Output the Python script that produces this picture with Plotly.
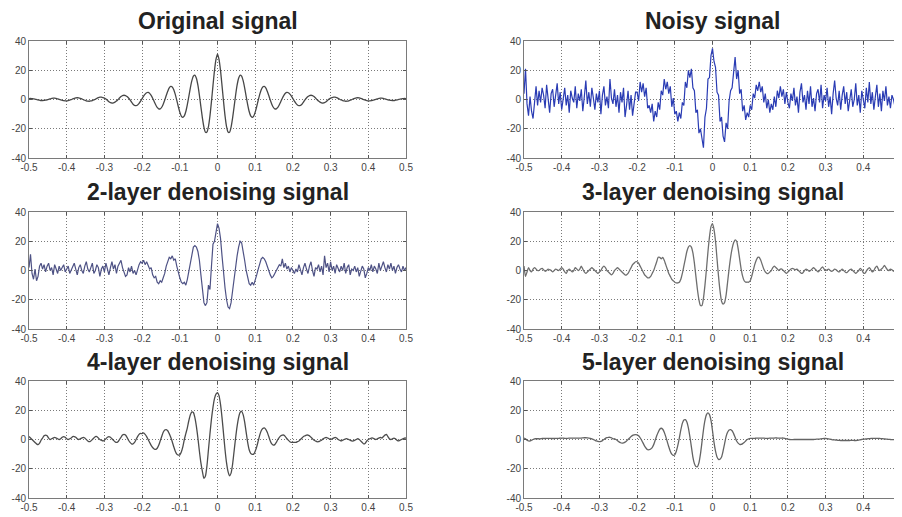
import plotly.graph_objects as go

# sampling: x starts at -0.5, step 0.004 -> 251 samples up to 0.5
x_start = -0.5
x_step = 0.004

original = [
 0.6, 0.7, 0.6, 0.5, 0.3, 0.0, -0.3, -0.5, -0.7, -0.7,
 -0.6, -0.4, -0.2, 0.1, 0.5, 0.7, 0.9, 0.9, 0.7, 0.5,
 0.1, -0.2, -0.5, -0.8, -0.9, -0.9, -0.7, -0.4, -0.1, 0.4,
 0.8, 1.1, 1.2, 1.1, 0.8, 0.4, -0.1, -0.5, -0.9, -1.1,
 -1.2, -1.0, -0.7, -0.3, 0.2, 0.8, 1.3, 1.6, 1.6, 1.3,
 0.9, 0.3, -0.6, -1.5, -2.1, -2.4, -2.3, -1.8, -1.1, -0.1,
 1.0, 2.0, 2.7, 2.9, 2.7, 2.0, 1.0, -0.2, -1.8, -3.2,
 -4.0, -4.2, -3.7, -2.6, -1.1,
 0.6, 2.3, 3.7, 4.6, 4.8, 4.2, 2.8, 0.9, -1.4, -3.6,
 -5.4, -6.4, -6.4, -5.3, -3.2, -0.4, 2.7, 5.6, 7.9, 8.9,
 8.6, 6.7, 3.5, -0.5, -4.8, -8.6, -11.3, -12.2, -11.2, -8.2,
 -3.5, 2.2, 8.0, 12.9, 16.0, 16.7, 14.5, 9.8, 2.9, -5.0,
 -12.7, -18.9, -22.4, -22.3, -18.5, -11.2, -1.3, 9.5, 19.7, 27.4,
 31.0,
 27.4, 19.7, 9.5, -1.3, -11.2, -18.5, -22.3, -22.4, -18.9, -12.7,
 -5.0, 2.9, 9.8, 14.5, 16.7, 16.0, 12.9, 8.0, 2.2, -3.5,
 -8.2, -11.2, -12.2, -11.3, -8.6, -4.8, -0.5, 3.5, 6.7, 8.6,
 8.9, 7.9, 5.6, 2.7, -0.4, -3.2, -5.3, -6.4, -6.4, -5.4,
 -3.6, -1.4, 0.9, 2.8, 4.2, 4.8, 4.6, 3.7, 2.3, 0.6,
 -1.1, -2.6, -3.7, -4.2, -4.0, -3.2, -1.8, -0.2, 1.0, 2.0,
 2.7, 2.9, 2.7, 2.0, 1.0, -0.1, -1.1, -1.8, -2.3, -2.4,
 -2.1, -1.5, -0.6, 0.3, 0.9, 1.3, 1.6, 1.6, 1.3, 0.8,
 0.2, -0.3, -0.7, -1.0, -1.2, -1.1, -0.9, -0.5, -0.1, 0.4,
 0.8, 1.1, 1.2, 1.1, 0.8, 0.4, -0.1, -0.4, -0.7, -0.9,
 -0.9, -0.8, -0.5, -0.2, 0.1, 0.5, 0.7, 0.9, 0.9, 0.7,
 0.5, 0.1, -0.2, -0.4, -0.6, -0.7, -0.7, -0.5, -0.3, 0.0,
 0.3, 0.5, 0.6, 0.7, 0.6,
]

noisy = [
 4, 21, -3, -11, 2, -8, -13, 1, 9, -4,
 6, -2, 8, 3, -6, 10, -1, -9, 4, 7,
 -5, 2, 11, -3, 5, -7, 0, 8, -4, 3,
 -9, 6, 1, -2, 9, -6, 4, -1, 7, -8,
 2, 13, -3, 5, -5, 8, 1, -7, 4, -2,
 6, -10, 3, 9, -4, 2, -6, 14, 1, -3,
 7, -5, 3, -9, 5, -2, 8, -12, -4, 6,
 -7, 3, -11, -2, 5,
 5, -1, 12, 5, 11, 2, 8, -6, -4, -9,
 -3, -15, -8, -12, -2, -7, 6, 3, 14, 7,
 12, 4, 9, -5, 1, -10, -8, -15, -9, -13,
 -2, -4, 12, 8, 20, 15, 21, 8, 6, -9,
 -7, -23, -20, -27, -33, -12, -6, 14, 15, 30,
 35,
 26, 22, 5, 3, -15, -12, -25, -29, -16, -20,
 -1, 6, 8, 18, 29, 14, 20, 4, 7, -8,
 -4, -14, -9, -12, -4, -7, 4, 1, 10, 6,
 12, 5, 9, -2, 4, -6, 0, -9, -3, -7,
 2, -5, 6, 1, 9, 2, 7, -3, 5, -2,
 -6, 4, -1, 8, -4, 2, -9, 5, 11, -2,
 3, -7, 6, -3, 9, -5, 1, -8, 4, 7,
 -2, 10, -6, 3, -1, 8, -5, 2, -10, 4,
 13, 1, -4, 6, -7, 3, 9, -3, 5, -8,
 2, 7, -5, 0, 11, -4, 3, -9, 6, 1,
 -6, 8, -2, 12, -3, 5, -7, 2, 10, -5,
 4, -8, 6, -1, 9, -4, 2, -6, 3, 0,
 -5, 7, -3, 4, -2,
]

layer2 = [
 2, 11, -2, -6, 1, -7, -4, 3, 5, 1,
 4, -1, 3, 5, 0, 2, -3, 4, 1, -2,
 3, 0, 2, 4, -1, 1, 3, -2, 0, 2,
 5, 1, -3, 2, 4, 0, -2, 3, 6, 1,
 -1, 2, 5, -2, 0, 4, 2, -4, 1, 3,
 -1, 5, 0, -3, 2, 6, 1, 4, -2, 3,
 5, 7, 2, -1, -4, -3, 2, -1, 3, -2,
 0, -3, 1, 4, 6,
 5, 7, 4, 6, 3, 1, 2, -3, -5, -4,
 -8, -9, -7, -8, -5, -2, 3, 6, 9, 8,
 10, 7, 8, 3, -2, -5, -8, -9, -8, -10,
 -6, 0, 6, 12, 16, 17, 16, 13, 7, -3,
 -14, -22, -24, -22, -10, -13, 3, 18, 20, 27,
 32,
 29, 22, 10, -2, -12, -20, -25, -26, -22, -14,
 -5, 3, 10, 16, 20, 19, 14, 7, 0, -5,
 -9, -10, -8, -10, -7, -3, 1, 5, 8, 9,
 8, 6, 3, -1, -3, -5, -4, -2, 0, 2,
 4, 3, 8, 2, 5, 1, 3, -1, 2, 0,
 -2, 1, -1, 4, 0, -3, 2, 5, 1, -2,
 3, 6, 0, -4, 2, 1, 4, -1, 3, -3,
 10, 2, 5, -1, 6, 0, 3, -2, 4, 1,
 -1, 3, 0, 5, -2, 2, 4, -3, 1, 0,
 3, -1, 2, -4, 0, 3, 1, -5, -2, 2,
 0, 4, -1, 3, 1, -2, 5, 0, 3, 6,
 2, -1, 4, 1, 5, 0, 3, -2, 2, 4,
 1, -1, 3, 0, 2,
]

layer3 = [
 3, -4, -1, 2, 0, -1, 1, 2, 1, 0,
 0, 1, 1.5, 0.5, -0.5, 0, 1, 0.5, 0, -1,
 0, 1, 0.5, 0, 1, 2, 1, -1, -2, 0,
 1, 0, -1, 0, 2, 1, 0, 1, 3, 1,
 -1, -2, -1, 0, 1, 2, 1, 0, -1, -2,
 -1, 0, 2, 3, 2, 0, -1, -2, -3, -2,
 0, 1, 2, 1, 0, -1, -2, -3, -3, -2,
 0, 2, 4, 5, 6,
 6, 5, 3, 1, -1, -3, -4, -5, -5, -4,
 -2, 0, 3, 6, 9, 9, 8, 9, 7, 4,
 1, -2, -4, -6, -7, -8, -8.5, -8.5, -8, -6,
 -2, 3, 8, 13, 16, 17, 16, 12, 5, -4,
 -13, -20, -24, -24, -19, -10, 1, 13, 23, 30,
 32,
 28, 20, 8, -4, -14, -21, -23, -22, -17, -8,
 1, 9, 15, 19, 21, 20, 15, 8, 1, -4,
 -7, -8, -8, -8, -7, -4, 0, 4, 7, 9,
 9, 7, 4, 1, -1, -2, -2, -1, 0, 2,
 3, 2, 1, 0, 1, 1, 0, -1, -2, -1,
 0, 1, 1.5, 1, 0.5, 1, 0, -1, -2, -1.5,
 0, 1, 0.5, -0.5, 0, 1, 2, 1, 0, -1,
 0, 1.5, 2.5, 1, 0, 0.5, 1, 0, -0.5, 0,
 1, 0.5, -0.5, -1, 0, 1, 0, -1, -1.5, -0.5,
 0.5, 1, 0, -1, -2, -1, 0, 1.5, 0.5, -1.5,
 -2, -0.5, 1, 2, 0.5, -1, 0, 2, 3, 1,
 0, 1, 2, 3.5, 2, 0.5, 0, 1, 0.5, -0.5,
 0, 0.5, 1, 0.5, 0,
]

layer4 = [
 2, 1, 0, -1, -2, -3, -3.5, -2.5, -0.5, 1,
 2.5, 3, 2.5, 1, 0, 0.5, 1, 1.5, 1, 0.5,
 0, 0.5, 1.5, 2, 1.5, 0.5, 0, 0.5, 1, 2,
 2, 1.5, 0.5, 0, 0.5, 1, 1.5, 1, 0, -1,
 -1.5, -1, 0, 1, 2, 2, 1, 0, -0.5, -1,
 -0.5, 0.5, 1.5, 2, 1.5, 0.5, -0.5, -1.5, -2, -1.5,
 0, 1.5, 3, 3.5, 3, 1.5, -0.5, -2, -3, -3,
 -2, 0, 2, 3.5, 4.2,
 4, 4.5, 3.5, 2, 0, -2, -4, -5.5, -6.5, -6.8,
 -6, -4, -1, 2, 5, 6.5, 6.8, 6, 4, 1.5,
 -1.5, -5, -8, -10, -10.7, -10.5, -8.5, -5, 0, 4,
 8, 13, 17, 18.9, 18.5, 15, 9, 1, -8, -16,
 -22, -26.6, -25, -18, -7, 4, 14, 22, 28, 31,
 32,
 30, 24, 15, 4, -7, -16, -22, -24.8, -23, -17,
 -8, 1, 9, 15, 18.5, 19.3, 17, 12, 5, -2,
 -7, -9.5, -10.2, -10, -8, -5, -1, 3, 6, 7.5,
 8, 7, 5, 2, -1, -3, -3.9, -3.5, -2, 0,
 1.5, 2.5, 3, 3, 2, 0.5, -0.5, -1.5, -2, -2,
 -2, -2, -1.5, -1, 0, 1, 2, 2.5, 3, 3,
 2.5, 1.5, 0.5, -0.5, -1, -1.5, -1.5, -1, -0.5, 0.5,
 1, 1.5, 1, 0.5, 0, 0.5, 1, 1.5, 1, 0,
 -0.5, -1, -0.5, 0, 0.5, 0.5, 0, -0.5, -1, -1,
 -0.5, 0, 0.5, 0, -1, -2, -3, -2.5, -1, 0,
 0.5, 1, 1, 0.5, 0, 0.5, 1, 1.5, 1, 2,
 3, 3.5, 2, 0.5, 0, 0.5, 1, 0.5, -0.5, -1,
 -0.5, 0, 0.5, 1, 1,
]

layer5 = [
 1, 0.5, -0.5, -1, -1, -0.5, 0, 0.5, 0.5, 0.5,
 0.5, 0.5, 0.7, 0.7, 0.7, 0.8, 0.8, 0.8, 0.7, 0.7,
 0.7, 0.8, 0.8, 0.8, 0.9, 0.9, 0.9, 0.8, 0.8, 0.8,
 0.9, 1, 1, 1, 1, 1, 0.9, 0.9, 1, 1.1,
 1.2, 1.2, 1.1, 1, 0.8, 0.5, 0, -0.5, -1, -1.3,
 -1.5, -1.3, -0.8, 0, 0.8, 1.3, 1.5, 1.5, 1.2, 0.5,
 0.5, 0, -0.8, -1.6, -2.2, -2.5, -2.3, -1.8, -1, 0,
 1, 2, 2.8, 3.2, 3.4,
 3.2, 2.5, 1.2, -0.5, -2.5, -4.5, -6, -7, -7, -6.5,
 -5.5, -3.5, -0.5, 2.5, 5, 7, 7.7, 7, 5, 2,
 -1.5, -5, -8, -10, -10.9, -10.5, -8, -4, 1, 6.5,
 11, 13.3, 13.6, 12, 8, 2, -5, -12, -16.5, -18.5,
 -18.6, -16, -10, -2, 6.5, 13, 17, 18.2, 17, 13,
 6,
 -2, -8, -12, -13.6, -13.5, -12, -8, -3, 2, 5,
 6.5, 6.8, 6, 4, 1.5, -1, -2.5, -3.3, -3.4, -2.8,
 -2, -1, 0, 0.5, 0.8, 0.8, 0.8, 0.8, 0.9, 0.9,
 0.9, 1, 1, 0.9, 0.8, 0.8, 0.8, 0.9, 1, 1,
 1, 1.1, 1, 0.9, 0.9, 1, 1, 0.8, 0.5, 0.2,
 0, -0.1, -0.1, 0, 0, 0, 0, 0, 0, 0,
 0, 0, 0, 0, 0, 0, 0, 0.1, 0.2, 0.2,
 0.3, 0.5, 0.6, 0.7, 0.7, 0.6, 0.4, 0.2, 0, -0.2,
 -0.3, -0.4, -0.5, -0.6, -0.7, -0.7, -0.7, -0.7, -0.7, -0.7,
 -0.7, -0.6, -0.6, -0.7, -0.7, -0.6, -0.4, -0.2, 0, 0.2,
 0.3, 0.4, 0.5, 0.6, 0.7, 0.8, 0.8, 0.8, 0.8, 0.8,
 0.7, 0.6, 0.5, 0.4, 0.3, 0.2, 0.1, 0, -0.1, -0.1,
 -0.1, 0, 0, 0, 0,
]

titles = ["Original signal", "Noisy signal",
          "2-layer denoising signal", "3-layer denoising signal",
          "4-layer denoising signal", "5-layer denoising signal"]
x_tick_vals = [-0.5, -0.4, -0.3, -0.2, -0.1, 0, 0.1, 0.2, 0.3, 0.4, 0.5]
x_tick_text = ["-0.5", "-0.4", "-0.3", "-0.2", "-0.1", "0", "0.1", "0.2", "0.3", "0.4", "0.5"]
y_tick_vals = [-40, -20, 0, 20, 40]
y_tick_text = ["-40", "-20", "0", "20", "40"]

series = [original, noisy, layer2, layer3, layer4, layer5]
for name, s in zip(titles, series):
    if len(s) != 251:
        raise ValueError(f"{name}: {len(s)}")

colors = ["#474747", "#2a3cb4", "#4e5285", "#6e6e6e", "#4c4c4c", "#646464"]
widths = [1.3, 1.2, 1.2, 1.3, 1.3, 1.3]
shapes = ["spline", "linear", "linear", "spline", "spline", "spline"]

# the page body has an 8px margin, so the figure is placed at (8, 8) in the window
OFF = 8
W, H = 902 - OFF, 517 - OFF
xdom = [(29 - OFF, 406 - OFF), (524 - OFF, 901 - OFF)]
ydom = [(41 - OFF, 158 - OFF), (212 - OFF, 329 - OFF), (381 - OFF, 498 - OFF)]
title_y = [21 - OFF, 192 - OFF, 362 - OFF]

fig = go.Figure()
font_family = "Liberation Sans, Arial, Helvetica, sans-serif"

for k, (s, title) in enumerate(zip(series, titles)):
    row, col = k // 2, k % 2
    ax = "" if k == 0 else str(k + 1)
    fig.add_trace(go.Scatter(
        y=s, x0=x_start, dx=x_step, mode="lines",
        line=dict(color=colors[k], width=widths[k], shape=shapes[k], smoothing=0.6),
        xaxis="x" + ax, yaxis="y" + ax, showlegend=False, hoverinfo="skip"))
    x0, x1 = xdom[col]
    y0, y1 = ydom[row]
    common = dict(showgrid=True, gridcolor="#7a7a7a", griddash="1px,2px", gridwidth=1,
                  zeroline=False, showline=True, linecolor="#7a7a7a", linewidth=1,
                  mirror="ticks", ticks="inside", ticklen=3, tickcolor="#555555",
                  automargin=False, ticklabeloverflow="allow",
                  tickfont=dict(size=10, color="#444444", family=font_family))
    fig.update_layout(**{
        "xaxis" + ax: dict(domain=[x0 / W, min(x1 / W, 1.0)], range=[-0.5, 0.5],
                           tickvals=x_tick_vals, ticktext=x_tick_text,
                           anchor="y" + ax, **common),
        "yaxis" + ax: dict(domain=[1 - y1 / H, 1 - y0 / H], range=[-40, 40],
                           tickvals=y_tick_vals, ticktext=y_tick_text,
                           anchor="x" + ax, **common),
    })
    fig.add_annotation(text="<b>" + title + "</b>", xref="paper", yref="paper",
                       x=(x0 + x1) / 2 / W, y=1 - title_y[row] / H,
                       xanchor="center", yanchor="middle", showarrow=False,
                       font=dict(size=23, color="#222222", family=font_family))

fig.update_layout(width=W, height=H, margin=dict(l=0, r=0, t=0, b=0, autoexpand=False),
                  paper_bgcolor="white", plot_bgcolor="white")
fig.write_html("out.html")
